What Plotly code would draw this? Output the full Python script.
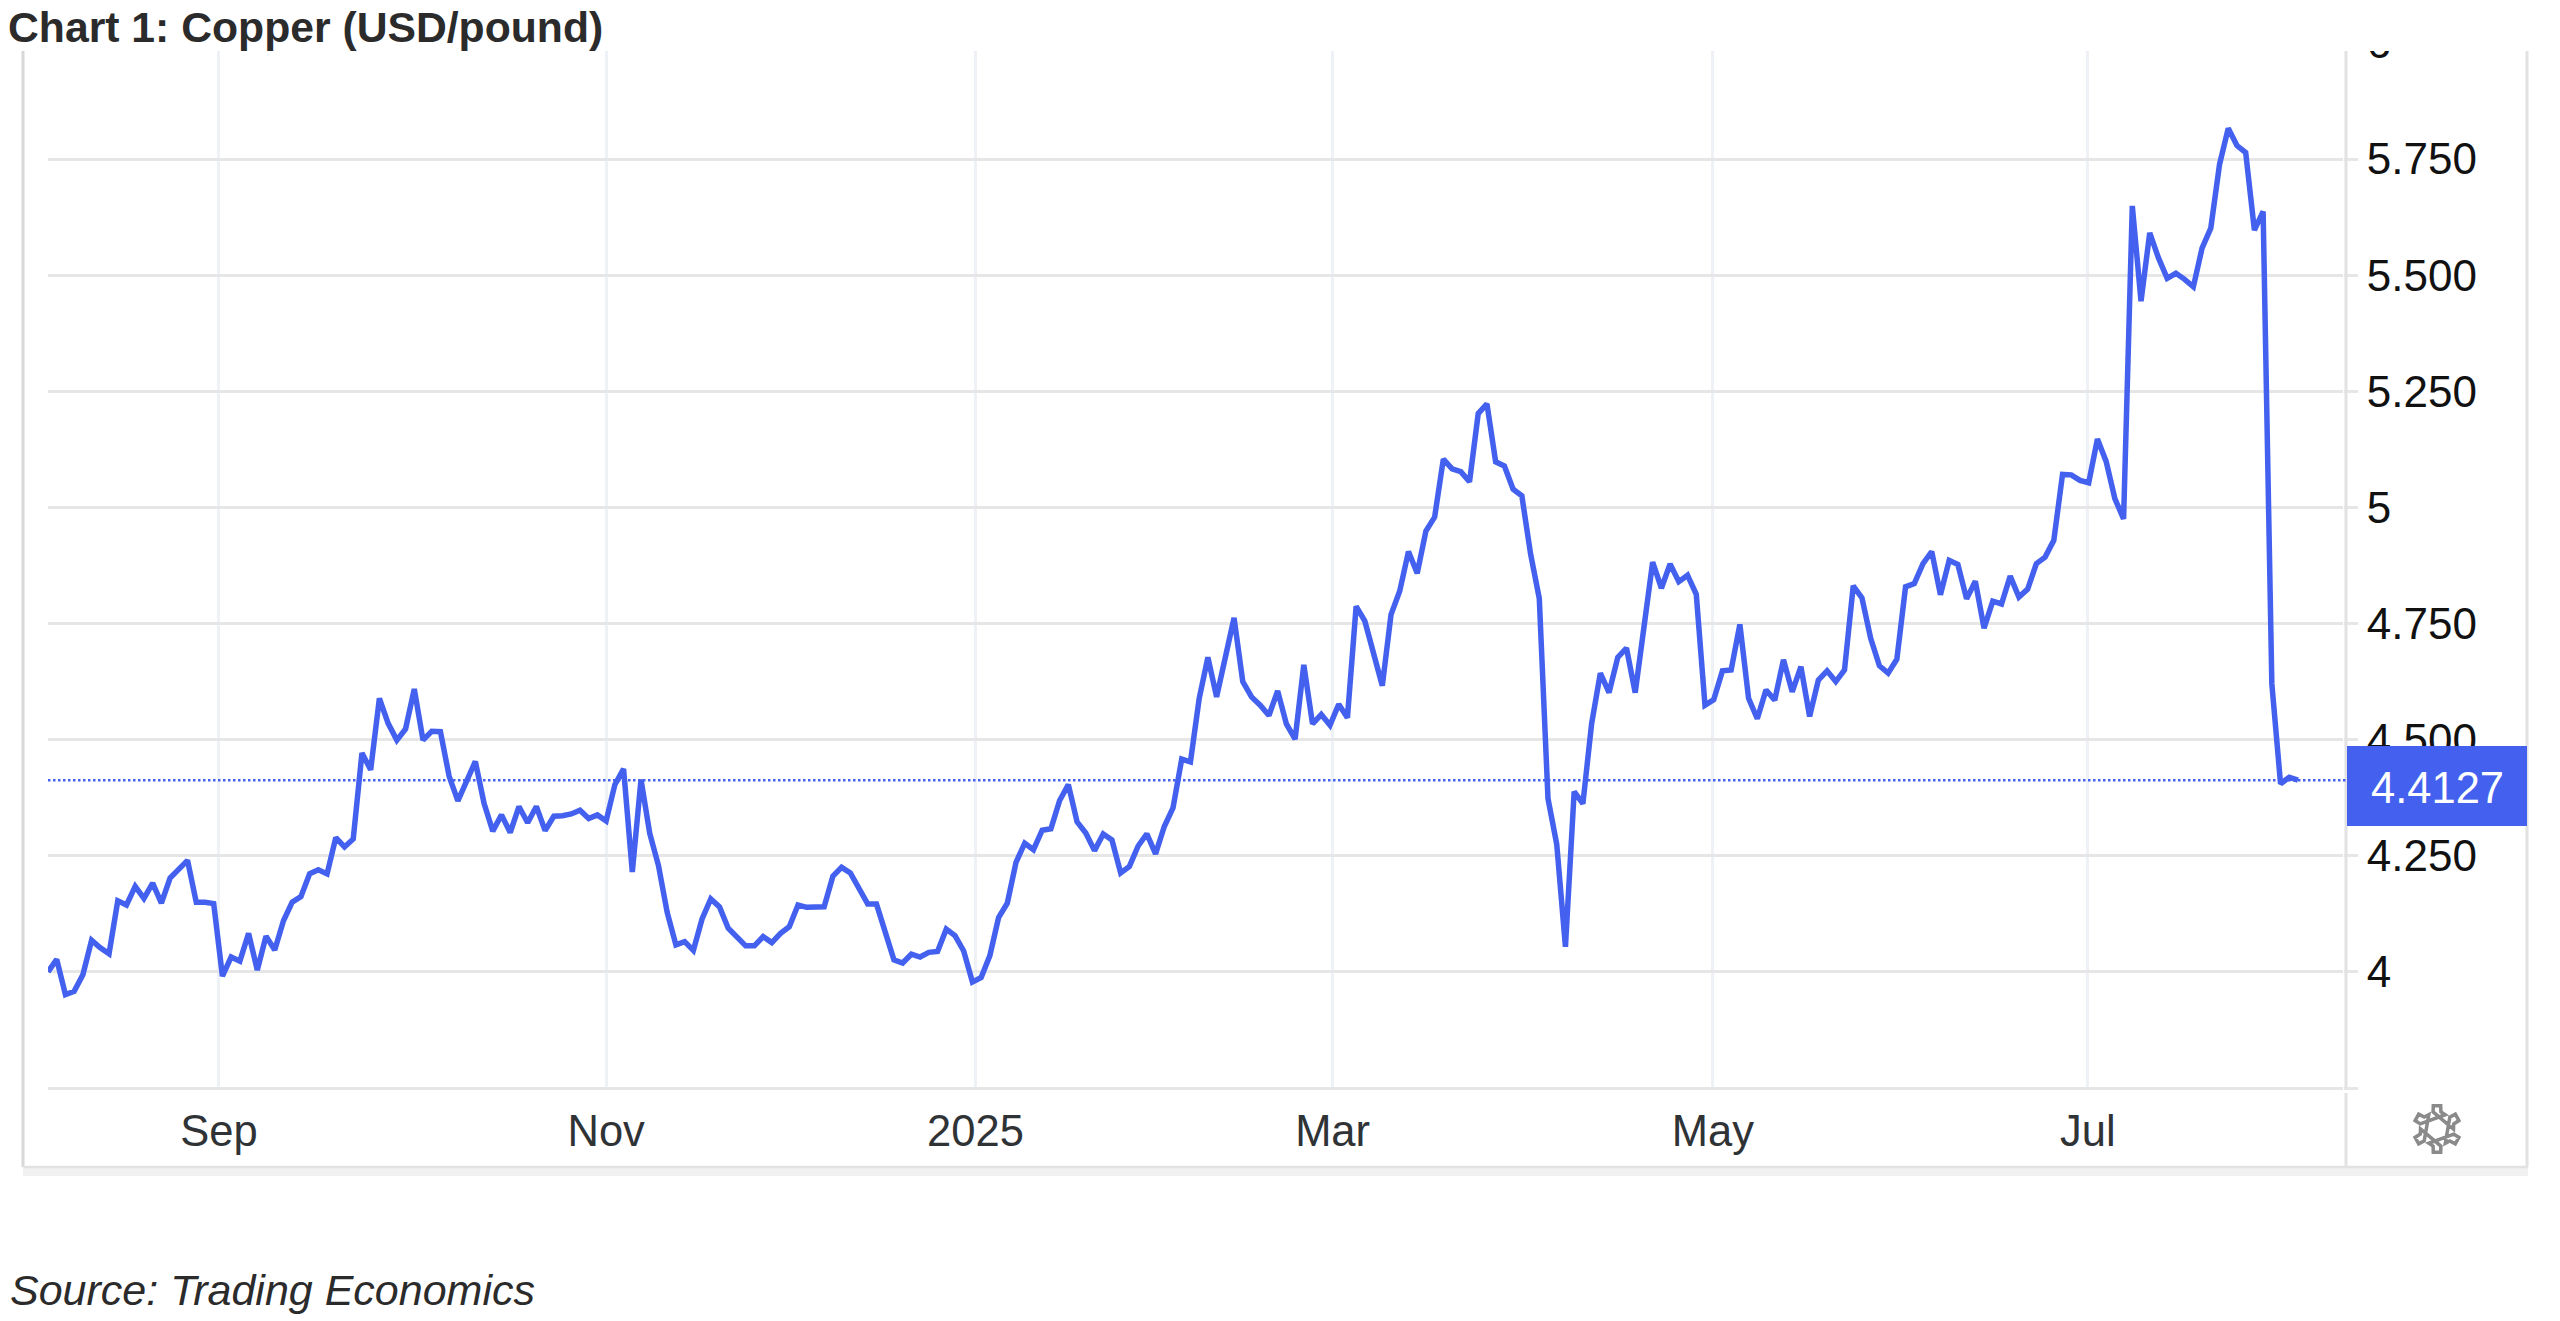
import math
import plotly.graph_objects as go

TITLE = "Chart 1: Copper (USD/pound)"
SOURCE = "Source: Trading Economics"
LAST_LABEL = "4.4127"
LAST_VALUE = 4.4127

copper = [
    4.000, 4.027, 3.951, 3.958, 3.994, 4.068, 4.052, 4.039, 4.153, 4.144, 4.184, 4.158, 4.191, 4.148, 4.202,
    4.222, 4.240, 4.150, 4.150, 4.147, 3.991, 4.032, 4.023, 4.083, 4.004, 4.077, 4.047, 4.110, 4.150, 4.162,
    4.211, 4.220, 4.211, 4.289, 4.269, 4.286, 4.471, 4.435, 4.589, 4.535, 4.499, 4.523, 4.609, 4.499, 4.518,
    4.517, 4.421, 4.368, 4.410, 4.453, 4.363, 4.303, 4.338, 4.300, 4.356, 4.321, 4.356, 4.304, 4.335, 4.336,
    4.340, 4.348, 4.330, 4.338, 4.325, 4.403, 4.437, 4.215, 4.414, 4.298, 4.229, 4.128, 4.058, 4.065, 4.046,
    4.114, 4.157, 4.140, 4.094, 4.076, 4.056, 4.056, 4.076, 4.063, 4.083, 4.097, 4.144, 4.139, 4.140, 4.140,
    4.206, 4.225, 4.213, 4.182, 4.146, 4.146, 4.089, 4.026, 4.019, 4.038, 4.032, 4.042, 4.044, 4.092, 4.078,
    4.045, 3.978, 3.988, 4.035, 4.117, 4.148, 4.236, 4.277, 4.263, 4.305, 4.308, 4.369, 4.403, 4.323, 4.299,
    4.261, 4.297, 4.284, 4.213, 4.227, 4.271, 4.297, 4.254, 4.313, 4.353, 4.458, 4.452, 4.588, 4.677, 4.592,
    4.683, 4.762, 4.625, 4.592, 4.574, 4.552, 4.605, 4.534, 4.501, 4.661, 4.534, 4.554, 4.531, 4.576, 4.547,
    4.787, 4.755, 4.686, 4.616, 4.769, 4.820, 4.905, 4.858, 4.949, 4.979, 5.104, 5.083, 5.077, 5.055, 5.202,
    5.223, 5.098, 5.089, 5.039, 5.025, 4.900, 4.804, 4.373, 4.275, 4.054, 4.388, 4.362, 4.534, 4.643, 4.601,
    4.677, 4.697, 4.601, 4.739, 4.882, 4.826, 4.878, 4.840, 4.854, 4.813, 4.574, 4.586, 4.648, 4.650, 4.748,
    4.589, 4.545, 4.607, 4.585, 4.672, 4.603, 4.657, 4.550, 4.628, 4.648, 4.625, 4.650, 4.831, 4.805, 4.718,
    4.659, 4.643, 4.673, 4.829, 4.836, 4.879, 4.905, 4.812, 4.886, 4.877, 4.803, 4.841, 4.740, 4.798, 4.792,
    4.852, 4.807, 4.824, 4.879, 4.893, 4.929, 5.071, 5.070, 5.058, 5.053, 5.147, 5.099, 5.019, 4.975, 5.649,
    5.444, 5.591, 5.537, 5.493, 5.504, 5.491, 5.475, 5.558, 5.601, 5.738, 5.816, 5.779, 5.764, 5.597, 5.637,
    4.620, 4.405, 4.419, 4.413,
]
x_index = list(range(len(copper)))
month_ticks = [19.6, 64.0, 106.35, 147.3, 190.9, 233.9]
month_labels = ["Sep", "Nov", "2025", "Mar", "May", "Jul"]
y_ticks = [3.75, 4, 4.25, 4.5, 4.75, 5, 5.25, 5.5, 5.75, 6]
y_labels = ["", "4", "4.250", "4.500", "4.750", "5", "5.250", "5.500", "5.750", "6"]

BLUE = "#4361EE"
GRID = "#e6e6e6"
VGRID = "#eef1f6"
FRAME = "#e2e2e2"
W, H = 2560, 1321
L, R, T, B = 48, 2343, 30, 1090


def px(x):
    return (x - L) / (R - L)


def py(y):
    return (B - y) / (B - T)


def rect(x0, y0, x1, y1, fill, layer="above"):
    return dict(type="rect", xref="paper", yref="paper", x0=px(x0), x1=px(x1), y0=py(y0), y1=py(y1),
                fillcolor=fill, line=dict(width=0), layer=layer)


def seg(x0, y0, x1, y1, color=FRAME, width=3):
    return dict(type="line", xref="paper", yref="paper", x0=px(x0), x1=px(x1), y0=py(y0), y1=py(y1),
                line=dict(color=color, width=width), layer="above")


def gear_path():
    pts = []
    for i in range(6):
        a = math.radians(90 - i * 60)
        for da, r in [(-30, 16.5), (-13, 17.5), (-9, 23.5), (9, 23.5), (13, 17.5)]:
            t = a + math.radians(da)
            pts.append((r * math.cos(t), r * math.sin(t)))
    d = "M" + " L".join(f"{a:.1f},{b:.1f}" for a, b in pts) + " Z"
    r = 7.5
    d += f" M{-r},0 A{r},{r} 0 1 1 {r},0 A{r},{r} 0 1 1 {-r},0 Z"
    return d


fig = go.Figure(go.Scatter(x=x_index, y=copper, mode="lines", hoverinfo="skip",
                           line=dict(color=BLUE, width=5.5), cliponaxis=True))

shapes = [
    rect(-100, -40, W + 20, 51, "#ffffff"),
    seg(23, 51, 23, 1167, "#d8d8d8", 3),
    seg(2527, 51, 2527, 1167, FRAME, 3),
    seg(2346, 51, 2346, 1088, FRAME, 3),
    seg(2346, 1093, 2346, 1167, FRAME, 3),
    rect(23, 1167, 2528, 1176, "#f1f1f1"),
    seg(23, 1167, 2528, 1167, FRAME, 2.5),
    dict(type="line", xref="paper", yref="y", x0=0, x1=px(2346), y0=LAST_VALUE, y1=LAST_VALUE,
         line=dict(color=BLUE, width=2.5, dash="2.5px,2.5px"), layer="above"),
    rect(2347, 746, 2527, 826, BLUE),
    dict(type="path", xref="paper", yref="paper", xsizemode="pixel", ysizemode="pixel",
         xanchor=px(2437), yanchor=py(1129), path=gear_path(),
         line=dict(color="#8a8a8a", width=3.5), fillcolor="rgba(0,0,0,0)", layer="above"),
]

annotations = [
    dict(text="<b>" + TITLE + "</b>", xref="paper", yref="paper", x=px(6), y=py(27), xanchor="left", yanchor="middle",
         showarrow=False, font=dict(family="Liberation Sans", size=42.7, color="#2b2b2b")),
    dict(text="<i>" + SOURCE + "</i>", xref="paper", yref="paper", x=px(8), y=py(1290), xanchor="left", yanchor="middle",
         showarrow=False, font=dict(family="Liberation Sans", size=43, color="#2b2b2b")),
    dict(text=LAST_LABEL, xref="paper", yref="paper", x=px(2437), y=py(788), xanchor="center", yanchor="middle",
         showarrow=False, font=dict(family="Liberation Sans", size=43.5, color="#ffffff")),
]

fig.update_layout(
    width=W, height=H,
    margin=dict(l=L, r=W - R, t=T, b=H - B, pad=0, autoexpand=False),
    paper_bgcolor="#ffffff", plot_bgcolor="#ffffff",
    showlegend=False,
    shapes=shapes, annotations=annotations,
    font=dict(family="Liberation Sans"),
    xaxis=dict(range=[0, (len(copper) - 1) * (R - L) / 2250], tickmode="array", tickvals=month_ticks,
               ticktext=month_labels, showgrid=True, gridcolor=VGRID, gridwidth=2.5, zeroline=False,
               showline=False, ticks="outside", ticklen=3, tickcolor="rgba(0,0,0,0)",
               tickfont=dict(size=43.5, color="#2f3336", family="Liberation Sans")),
    yaxis=dict(range=[5.75 - (B - 159) / 464.5, 5.75 + (159 - T) / 464.5], side="right", tickmode="array",
               tickvals=y_ticks, ticktext=y_labels, showgrid=True, gridcolor=GRID, gridwidth=3, zeroline=False,
               showline=False, ticks="outside", ticklen=14, tickwidth=3, tickcolor=GRID,
               tickfont=dict(size=44, color="#111111", family="Liberation Sans")),
)

fig.write_html("out.html", config=dict(displayModeBar=False),
               post_script="document.body.style.margin='0';document.documentElement.style.overflow='hidden';")
